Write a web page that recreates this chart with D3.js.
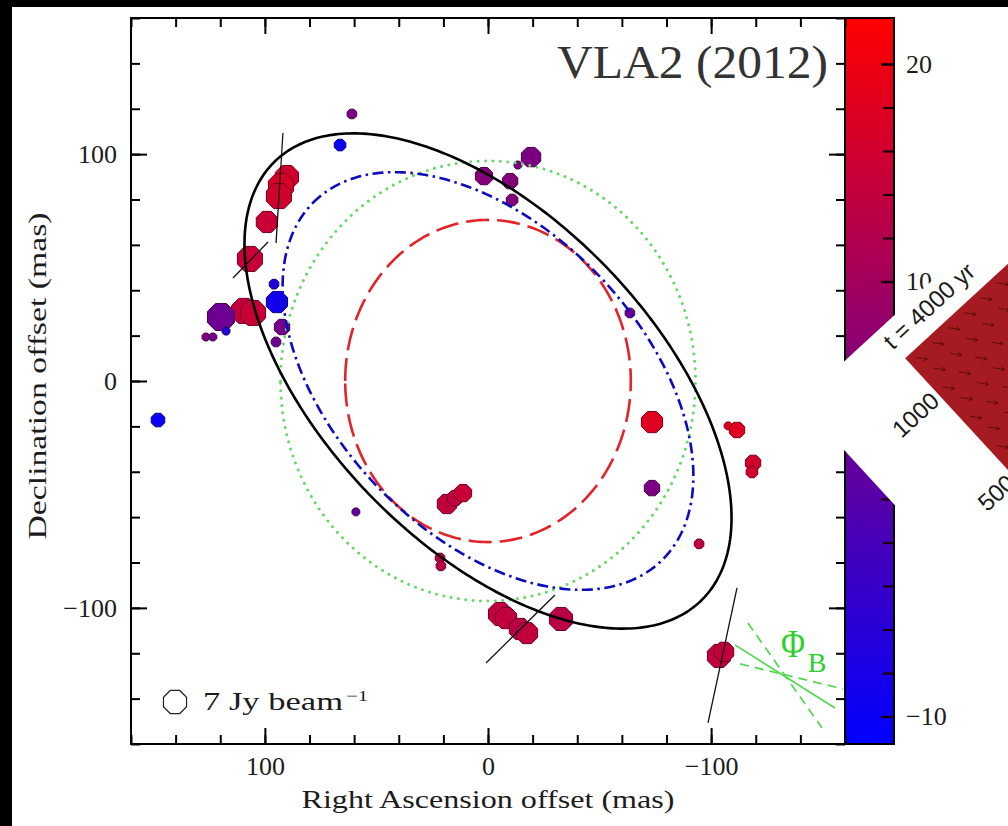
<!DOCTYPE html>
<html>
<head>
<meta charset="utf-8">
<script src="https://cdn.jsdelivr.net/npm/d3@7"></script>
<style>
  html, body { margin: 0; padding: 0; background: #000; overflow: hidden; }
  svg { display: block; }
</style>
</head>
<body>
<svg id="fig" width="1008" height="826"></svg>
<script>
// ---------------------------------------------------------------------------
// Data
// ---------------------------------------------------------------------------
// Axis ranges (mas) and tick values
const raRange = [160, -160];
const decRange = [-160, 160];
const majorTicks = [100, 0, -100];
const minorTicks = [160, 140, 120, 100, 80, 60, 40, 20, 0, -20, -40, -60, -80, -100, -120, -140, -160];

// Velocity colour bar (km/s)
const velLabels = [20, 10, 0, -10];
const velMinor = [-10, -8, -6, -4, -2, 0, 2, 4, 6, 8, 10, 12, 14, 16, 18, 20];

// Maser spots: RA offset (mas), Dec offset (mas), peak flux (Jy/beam), V_lsr (km/s)
const spotRA   = [61.0, 66.3, 90.1, 92.8, 93.7, 99.1, 106.7, 95.9, 94.6, 92.3, 95.0,
                  109.4, 105.3, 119.7, 117.4, 126.4, 123.3, 147.9, 59.2, 21.5, 21.1,
                  18.4, 14.8, 11.2, -5.4, -8.1, -14.3, -17.5, -32.7,
                  -19.3, -13.4, -9.9, -10.8, 1.8, -63.6, -73.5, -107.6, -111.6,
                  -118.8, -118.3, -73.5, -94.6, -103.5, -105.8];
const spotDec  = [117.7, 104.0, 89.9, 85.9, 81.5, 70.1, 53.8, 42.7, 34.8, 23.8, 17.2,
                  30.9, 30.0, 28.2, 22.0, 19.4, 19.4, -17.2, -57.7, -78.0, -81.5,
                  -54.2, -51.6, -49.4, -102.7, -104.5, -109.3, -111.1, -104.9,
                  98.7, 95.2, 88.1, 79.8, 90.3, 30.0, -18.1, -19.8, -21.6,
                  -36.1, -40.1, -47.2, -71.8, -121.2, -119.4];
const spotFlux = [1.2, 1.75, 7.0, 8.2, 8.2, 5.9, 8.2, 1.2, 5.9, 3.1, 1.2,
                  8.2, 8.2, 9.5, 0.8, 0.8, 0.8, 2.4, 0.8, 1.2, 1.2,
                  4.9, 3.1, 3.9, 7.0, 5.9, 5.9, 5.9, 7.0,
                  4.9, 0.8, 3.1, 1.75, 3.9, 1.2, 5.9, 0.8, 3.1,
                  3.1, 1.75, 3.1, 1.2, 7.0, 4.9];
const spotVel  = [5, -10, 16, 17, 16, 15, 15, -7, -9, 4, 3,
                  14, 15, 3, -6, 5, 4, -10, 2, 13, 13,
                  14, 14, 15, 14, 14, 13, 14, 13,
                  5, 5, 6, 6, 6, 3, 18, 18, 18,
                  16, 16, 5, 14, 14, 14];

// Fitted rings: semi-axis a (mas), semi-axis b (mas), rotation of a from the RA axis (deg)
const ringNames = ["red", "green", "blue", "black"];
const ringA     = [64, 93, 111, 136];
const ringB     = [71, 97, 68, 73];
const ringRot   = [0, 0, 45, 45];

// Linear polarization vectors: end points (mas)
const polRA1  = [91.9, 98.6, -30.0, -111.6];
const polDec1 = [109.3, 61.3, -94.3, -91.2];
const polRA2  = [95.0, 114.3, 0.9, -98.6];
const polDec2 = [60.8, 45.4, -124.3, -150.7];

// Magnetic field direction (solid) and its uncertainty (dashed): end points (mas)
const fieldRA1  = [-110.7, -116.5, -113.0];
const fieldDec1 = [-116.3, -106.7, -124.7];
const fieldRA2  = [-155.5, -149.7, -159.1];
const fieldDec2 = [-144.1, -152.9, -135.7];

// Reference flux of the size legend (Jy/beam)
const legendFlux = 7;

// Model panel labels
const modelTime = "t = 4000 yr";
const modelTickLabels = ["1000", "500"];

// ---------------------------------------------------------------------------
// Layout
// ---------------------------------------------------------------------------
const W = 1008, H = 826;
const plot = { left: 131, right: 845, top: 18, bottom: 744 };
const cbar = { left: 845, right: 894 };
const serif = "'Liberation Serif', 'DejaVu Serif', serif";
const sans = "'Liberation Sans', Arial, sans-serif";
const ink = "#1c1c1c";

const x = d3.scaleLinear().domain(raRange).range([plot.left, plot.right]);
const y = d3.scaleLinear().domain(decRange).range([plot.bottom, plot.top]);
const vScale = d3.scaleLinear().domain([-10, 20]).range([716.5, 64]);
const vMin = vScale.invert(plot.bottom), vMax = vScale.invert(plot.top);
const colour = d3.scaleLinear().domain([vMin, vMax])
  .range(["#0000ff", "#ff0000"]).interpolate(d3.interpolateRgb);
const radius = f => 12.5 * Math.sqrt(f / legendFlux);

const svg = d3.select("#fig");
svg.append("rect").attr("width", W).attr("height", H).attr("fill", "#000");
svg.append("rect").attr("x", 12).attr("y", 7).attr("width", W - 12).attr("height", H - 7).attr("fill", "#fff");

const defs = svg.append("defs");
defs.append("clipPath").attr("id", "plotClip").append("rect")
  .attr("x", plot.left).attr("y", plot.top)
  .attr("width", plot.right - plot.left).attr("height", plot.bottom - plot.top);

// ---------------------------------------------------------------------------
// Colour bar
// ---------------------------------------------------------------------------
const grad = defs.append("linearGradient").attr("id", "cbGrad")
  .attr("x1", 0).attr("y1", 0).attr("x2", 0).attr("y2", 1);
d3.range(0, 1.0001, 0.1).forEach(f => {
  grad.append("stop").attr("offset", f).attr("stop-color", colour(vMax - f * (vMax - vMin)));
});
svg.append("rect")
  .attr("x", cbar.left).attr("y", plot.top)
  .attr("width", cbar.right - cbar.left).attr("height", plot.bottom - plot.top)
  .attr("fill", "url(#cbGrad)");

function styleAxis(g, size) {
  g.attr("font-family", serif).attr("font-size", size);
  g.select(".domain").remove();
  g.selectAll(".tick line").attr("stroke", "#000").attr("stroke-width", 2);
  g.selectAll(".tick text").attr("fill", ink);
}

svg.append("g").attr("transform", `translate(${cbar.right},0)`)
  .call(d3.axisRight(vScale).tickValues(velMinor).tickSize(-11).tickFormat(""))
  .call(g => { styleAxis(g, 26); g.selectAll(".tick line").attr("stroke", "#1a0010").attr("stroke-width", 2.2); });
svg.append("g").attr("transform", `translate(${cbar.right},0)`)
  .call(d3.axisRight(vScale).tickValues(velLabels).tickSize(-13).tickPadding(12).tickFormat(d3.format("d")))
  .call(g => { styleAxis(g, 26); g.selectAll(".tick line").attr("stroke", "#1a0010").attr("stroke-width", 2.2); });

svg.append("rect")
  .attr("x", cbar.left).attr("y", plot.top)
  .attr("width", cbar.right - cbar.left).attr("height", plot.bottom - plot.top)
  .attr("fill", "none").attr("stroke", "#000").attr("stroke-width", 2);

// ---------------------------------------------------------------------------
// Plot contents
// ---------------------------------------------------------------------------
const content = svg.append("g").attr("clip-path", "url(#plotClip)");

const octagon = {
  draw(ctx, size) {
    const r = Math.sqrt(size);
    for (let i = 0; i < 8; i++) {
      const a = Math.PI / 8 + i * Math.PI / 4;
      const px = r * Math.cos(a), py = r * Math.sin(a);
      if (i === 0) ctx.moveTo(px, py); else ctx.lineTo(px, py);
    }
    ctx.closePath();
  }
};

const spots = spotRA.map((ra, i) => ({ ra, dec: spotDec[i], flux: spotFlux[i], vel: spotVel[i] }));
content.selectAll("path.spot").data(spots).join("path")
  .attr("class", "spot")
  .attr("transform", d => `translate(${x(d.ra)},${y(d.dec)})`)
  .attr("d", d => d3.symbol().type(octagon).size(radius(d.flux) ** 2)())
  .attr("fill", d => colour(d.vel))
  .attr("stroke", d => d3.color(colour(d.vel)).darker(1.6))
  .attr("stroke-width", 1);

// Rings
const ringStyle = {
  red:   { stroke: "rgb(226,36,42)",  width: 2.6, dash: "23 8", cap: "butt" },
  green: { stroke: "rgb(105,215,105)", width: 3.0, dash: "0.01 7.4", cap: "round" },
  blue:  { stroke: "rgb(12,12,190)",   width: 2.6, dash: "11 4.5 2.5 4.5", cap: "butt" },
  black: { stroke: "#000",             width: 2.6, dash: null, cap: "butt" }
};
const ringLine = d3.line().x(p => x(p[0])).y(p => y(p[1])).curve(d3.curveLinearClosed);
ringNames.forEach((name, i) => {
  const a = ringA[i], b = ringB[i], th = ringRot[i] * Math.PI / 180;
  const pts = d3.range(0, 360, 1).map(deg => {
    const t = deg * Math.PI / 180;
    const u = a * Math.cos(t), w = b * Math.sin(t);
    return [u * Math.cos(th) - w * Math.sin(th), u * Math.sin(th) + w * Math.cos(th)];
  });
  const s = ringStyle[name];
  content.append("path").attr("d", ringLine(pts))
    .attr("fill", "none").attr("stroke", s.stroke).attr("stroke-width", s.width)
    .attr("stroke-dasharray", s.dash).attr("stroke-linecap", s.cap);
});

// Polarization vectors
content.selectAll("line.pol").data(polRA1.map((r, i) => i)).join("line")
  .attr("class", "pol")
  .attr("x1", i => x(polRA1[i])).attr("y1", i => y(polDec1[i]))
  .attr("x2", i => x(polRA2[i])).attr("y2", i => y(polDec2[i]))
  .attr("stroke", "#111").attr("stroke-width", 1.3);

// Magnetic field direction
content.selectAll("line.field").data(fieldRA1.map((r, i) => i)).join("line")
  .attr("class", "field")
  .attr("x1", i => x(fieldRA1[i])).attr("y1", i => y(fieldDec1[i]))
  .attr("x2", i => x(fieldRA2[i])).attr("y2", i => y(fieldDec2[i]))
  .attr("stroke", "rgb(80,215,80)").attr("stroke-width", 1.7)
  .attr("stroke-dasharray", i => i === 0 ? null : "9 6");

svg.append("text").attr("x", 793).attr("y", 657)
  .attr("font-family", serif).attr("font-size", 40).attr("fill", "rgb(40,210,40)")
  .attr("text-anchor", "middle").attr("textLength", 24).attr("lengthAdjust", "spacingAndGlyphs")
  .text("Φ");
svg.append("text").attr("x", 817).attr("y", 672)
  .attr("font-family", serif).attr("font-size", 28).attr("fill", "rgb(40,210,40)")
  .attr("text-anchor", "middle").text("B");

// ---------------------------------------------------------------------------
// Axes and frame
// ---------------------------------------------------------------------------
const axes = svg.append("g");
axes.append("g").attr("transform", `translate(0,${plot.bottom})`)
  .call(d3.axisBottom(x).tickValues(minorTicks).tickSize(-9).tickFormat(""))
  .call(g => styleAxis(g, 26));
axes.append("g").attr("transform", `translate(0,${plot.bottom})`)
  .call(d3.axisBottom(x).tickValues(majorTicks).tickSize(-16).tickPadding(13).tickFormat(d3.format("d")))
  .call(g => styleAxis(g, 26));
axes.append("g").attr("transform", `translate(0,${plot.top})`)
  .call(d3.axisTop(x).tickValues(minorTicks).tickSize(-9).tickFormat(""))
  .call(g => styleAxis(g, 26));
axes.append("g").attr("transform", `translate(0,${plot.top})`)
  .call(d3.axisTop(x).tickValues(majorTicks).tickSize(-16).tickFormat(""))
  .call(g => styleAxis(g, 26));
axes.append("g").attr("transform", `translate(${plot.left},0)`)
  .call(d3.axisLeft(y).tickValues(minorTicks).tickSize(-9).tickFormat(""))
  .call(g => styleAxis(g, 26));
axes.append("g").attr("transform", `translate(${plot.left},0)`)
  .call(d3.axisLeft(y).tickValues(majorTicks).tickSize(-16).tickPadding(14).tickFormat(d3.format("d")))
  .call(g => styleAxis(g, 26));
axes.append("g").attr("transform", `translate(${plot.right},0)`)
  .call(d3.axisRight(y).tickValues(minorTicks).tickSize(-9).tickFormat(""))
  .call(g => styleAxis(g, 26));
axes.append("g").attr("transform", `translate(${plot.right},0)`)
  .call(d3.axisRight(y).tickValues(majorTicks).tickSize(-16).tickFormat(""))
  .call(g => styleAxis(g, 26));

svg.append("rect")
  .attr("x", plot.left).attr("y", plot.top)
  .attr("width", plot.right - plot.left).attr("height", plot.bottom - plot.top)
  .attr("fill", "none").attr("stroke", "#000").attr("stroke-width", 2);

// Axis titles
svg.append("text").attr("x", 488).attr("y", 808)
  .attr("font-family", serif).attr("font-size", 25).attr("text-anchor", "middle")
  .attr("fill", ink)
  .attr("textLength", 373).attr("lengthAdjust", "spacingAndGlyphs")
  .text("Right Ascension offset (mas)");
svg.append("text").attr("transform", "translate(46,376) rotate(-90)")
  .attr("font-family", serif).attr("font-size", 25).attr("text-anchor", "middle")
  .attr("fill", ink)
  .attr("textLength", 327).attr("lengthAdjust", "spacingAndGlyphs")
  .text("Declination offset (mas)");

// Panel title
svg.append("text").attr("x", 557).attr("y", 78)
  .attr("font-family", serif).attr("font-size", 46)
  .attr("textLength", 271).attr("lengthAdjust", "spacingAndGlyphs")
  .attr("fill", "#333").text("VLA2 (2012)");

// Size legend
svg.append("path")
  .attr("transform", "translate(175,702)")
  .attr("d", d3.symbol().type(octagon).size(radius(legendFlux) ** 2)())
  .attr("fill", "none").attr("stroke", "#222").attr("stroke-width", 1.2);
svg.append("text").attr("x", 203).attr("y", 710)
  .attr("font-family", serif).attr("font-size", 25).attr("fill", ink)
  .attr("textLength", 140).attr("lengthAdjust", "spacingAndGlyphs")
  .text(`${legendFlux} Jy beam`);
svg.append("text").attr("x", 346).attr("y", 701)
  .attr("font-family", serif).attr("font-size", 15).attr("fill", ink)
  .attr("textLength", 22).attr("lengthAdjust", "spacingAndGlyphs")
  .text("−1");

// ---------------------------------------------------------------------------
// Rotated model panel (overlapping the colour bar)
// ---------------------------------------------------------------------------
const panelAngle = -42.6;
const panel = svg.append("g").attr("transform", `translate(800,402) rotate(${panelAngle})`);
panel.append("rect").attr("x", 0).attr("y", 0).attr("width", 600).attr("height", 600).attr("fill", "#fff");
panel.append("rect").attr("x", 107).attr("y", 39).attr("width", 420).attr("height", 420)
  .attr("fill", "rgb(165,27,33)");

// Velocity field arrows of the model
const arrowDir = 8 - panelAngle;
const arrows = panel.append("g").attr("stroke", "rgba(45,0,0,0.6)").attr("stroke-width", 0.9).attr("fill", "none");
d3.range(0, 14).forEach(i => {
  d3.range(0, 14).forEach(j => {
    const ax = 119 + i * 22 + (j % 2) * 6, ay = 50 + j * 20;
    arrows.append("path")
      .attr("transform", `translate(${ax},${ay}) rotate(${arrowDir})`)
      .attr("d", "M-6,0L6,0M2.5,-2.2L6,0L2.5,2.2");
  });
});

panel.append("text").attr("x", 160).attr("y", 25)
  .attr("font-family", sans).attr("font-size", 24).attr("text-anchor", "middle")
  .attr("fill", "#1a1a1a").text(modelTime);
modelTickLabels.forEach((lbl, k) => {
  panel.append("text").attr("x", 103).attr("y", 96 + k * 112)
    .attr("font-family", sans).attr("font-size", 24).attr("text-anchor", "end")
    .attr("fill", "#1a1a1a").text(lbl);
});
</script>
</body>
</html>
